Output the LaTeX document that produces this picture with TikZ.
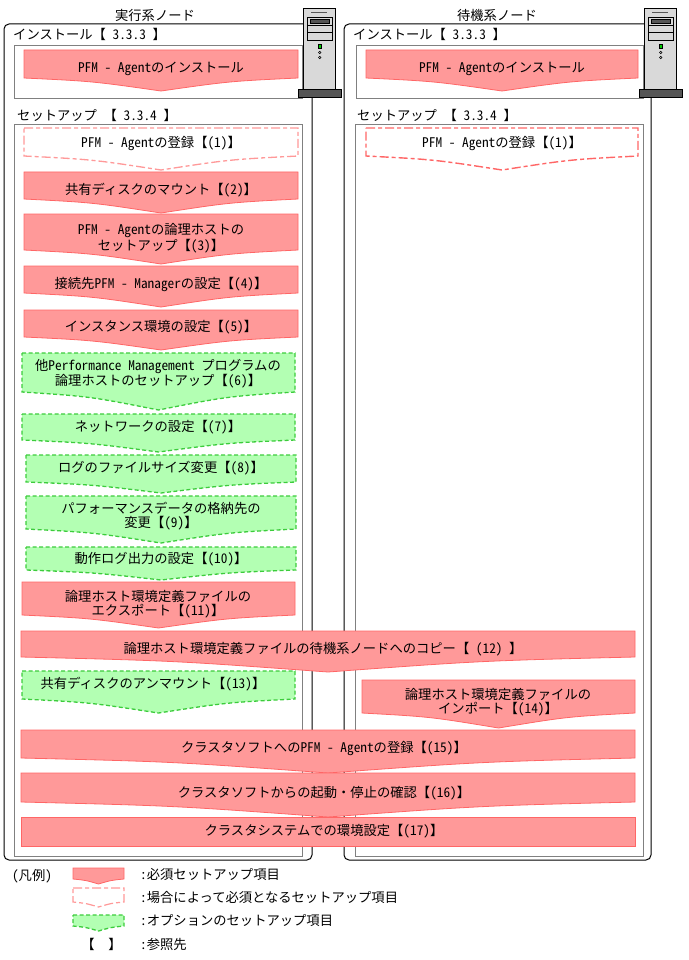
\documentclass[tikz,border=0pt]{standalone}
\usepackage{fontspec}
\setmainfont{Noto Sans CJK JP}[RawFeature=+hwid]
\definecolor{reqfill}{HTML}{FF9999}
\definecolor{reqline}{HTML}{FF6666}
\definecolor{condlineA}{HTML}{FF9999}
\definecolor{condlineB}{HTML}{FF6666}
\definecolor{optfill}{HTML}{B3FFB3}
\definecolor{optline}{HTML}{3CCC3C}
\definecolor{srvbody}{HTML}{D9D9D9}
\definecolor{srvdark}{HTML}{555555}
\definecolor{innerline}{HTML}{808080}
\newcommand\stepsh[6]{%
  \path[#1] (#2,#4) -- (#3,#4) -- (#3,#5)
    .. controls ({#3-(#3-#2)/4},{#5+(#6-#5)/4}) .. ({(#2+#3)/2},#6)
    .. controls ({#2+(#3-#2)/4},{#5+(#6-#5)/4}) .. (#2,#5) -- cycle;}
\newcommand\serverpic[1]{%
  \begin{scope}[shift={(#1,0)}]
    \draw[fill=srvbody, line width=0.8pt] (303,8) rectangle (335,89);
    \draw[line width=1pt, srvdark] (311,12.5) -- (327,12.5);
    \draw[line width=0.6pt] (307,17) rectangle (332,40);
    \draw[line width=0.6pt] (307,25) -- (332,25) (307,32) -- (332,32);
    \draw[fill=srvdark, line width=0.6pt] (310,19) rectangle (329,23.5);
    \draw[fill=green!80!black, line width=0.5pt] (318,44) rectangle (321.5,48);
    \draw[line width=0.5pt] (319.7,52.5) circle (1.3) (319.7,57.5) circle (1.3);
    \draw[fill=srvdark, line width=0.8pt] (298,89) rectangle (341,97);
  \end{scope}}
\tikzset{
  reqbox/.style={fill=reqfill, draw=reqline, line width=0.8pt},
  condboxA/.style={fill=white, draw=condlineA, line width=1.3pt, dash pattern=on 9pt off 3pt on 4pt off 3pt},
  condboxB/.style={fill=white, draw=condlineB, line width=1.4pt, dash pattern=on 9pt off 3pt on 4pt off 3pt},
  optbox/.style={fill=optfill, draw=optline, line width=1.3pt, dash pattern=on 4pt off 2.5pt},
  outerbox/.style={draw=black, line width=1pt, rounded corners=5pt},
  innerbox/.style={draw=innerline, line width=1pt},
  lbl/.style={font=\fontsize{13.3}{14}\selectfont, inner sep=0pt, align=center},
  hdr/.style={font=\fontsize{13.3}{14}\selectfont, inner sep=0pt, anchor=west},
}
\begin{document}
\begin{tikzpicture}[x=1pt, y=-1pt]
\useasboundingbox (0,0) rectangle (688,960);
% panels
\node[lbl] (titleL) at (155,15) {実行系ノード};
\node[lbl] (titleR) at (497,15) {待機系ノード};
\draw[outerbox] (4,24) rectangle (312,860);
\draw[outerbox] (344,24) rectangle (651,860);
\node[hdr] (instL) at (13,34) {インストール【 3.3.3 】};
\node[hdr] (instR) at (353,34) {インストール【 3.3.3 】};
\draw[innerbox] (14,46) rectangle (302,99);
\draw[innerbox] (356,46) rectangle (643,99);
\node[hdr] (setL) at (17,115) {セットアップ 【 3.3.4 】};
\node[hdr] (setR) at (357,115) {セットアップ 【 3.3.4 】};
\draw[innerbox] (14,125) rectangle (302,856);
\draw[innerbox] (355,125) rectangle (643,856);
% servers
\serverpic{0}
\serverpic{341}
% install
\stepsh{reqbox}{24}{298}{50}{78}{91}
\node[lbl] (s0L) at (161,69) {PFM - Agentのインストール};
\stepsh{reqbox}{366}{638}{50}{78}{91}
\node[lbl] (s0R) at (502,69) {PFM - Agentのインストール};
% (1)
\stepsh{condboxA}{24}{298}{128}{156}{170}
\node[lbl] (s1L) at (161,143) {PFM - Agentの登録【(1)】};
\stepsh{condboxB}{366}{638}{128}{156}{170}
\node[lbl] (s1R) at (502,143) {PFM - Agentの登録【(1)】};
% (2)-(5)
\stepsh{reqbox}{24}{298}{172}{199}{213}
\node[lbl] (s2) at (161,190) {共有ディスクのマウント【(2)】};
\stepsh{reqbox}{24}{298}{214}{250}{264}
\node[lbl] (s3) at (161,238) {PFM - Agentの論理ホストの\\セットアップ【(3)】};
\stepsh{reqbox}{24}{298}{266}{293}{307}
\node[lbl] (s4) at (161,284) {接続先PFM - Managerの設定【(4)】};
\stepsh{reqbox}{24}{298}{310}{337}{350}
\node[lbl] (s5) at (161,327) {インスタンス環境の設定【(5)】};
% (6)-(10)
\stepsh{optbox}{22}{295}{353}{392}{410}
\node[lbl] (s6) at (158,373.5) {他Performance Management プログラムの\\論理ホストのセットアップ【(6)】};
\stepsh{optbox}{22}{295}{414}{440}{452}
\node[lbl] (s7) at (158,427) {ネットワークの設定【(7)】};
\stepsh{optbox}{26}{296}{455}{482}{493}
\node[lbl] (s8) at (161,468) {ログのファイルサイズ変更【(8)】};
\stepsh{optbox}{26}{296}{496}{529}{543}
\node[lbl] (s9) at (161,516.5) {パフォーマンスデータの格納先の\\変更【(9)】};
\stepsh{optbox}{26}{296}{547}{570}{580}
\node[lbl] (s10) at (161,559) {動作ログ出力の設定【(10)】};
% (11)
\stepsh{reqbox}{22}{295}{582}{615}{628}
\node[lbl] (s11) at (158,604) {論理ホスト環境定義ファイルの\\エクスポート【(11)】};
% (12)
\stepsh{reqbox}{21}{635}{631}{657}{672}
\node[lbl] (s12) at (323,649) {論理ホスト環境定義ファイルの待機系ノードへのコピー【 (12) 】};
% (13)
\stepsh{optbox}{22}{295}{671}{699}{713}
\node[lbl] (s13) at (153,684) {共有ディスクのアンマウント【(13)】};
% (14)
\stepsh{reqbox}{362}{635}{680}{713}{728}
\node[lbl] (s14) at (498,702.5) {論理ホスト環境定義ファイルの\\インポート【(14)】};
% (15)-(17)
\stepsh{reqbox}{21}{635}{730}{758}{773}
\node[lbl] (s15) at (324,748) {クラスタソフトへのPFM - Agentの登録【(15)】};
\stepsh{reqbox}{21}{635}{773}{802}{817}
\node[lbl] (s16) at (324,793) {クラスタソフトからの起動・停止の確認【(16)】};
\draw[reqbox] (21,817) rectangle (635,846);
\node[lbl] (s17) at (324,831) {クラスタシステムでの環境設定【(17)】};
% legend
\node[lbl] (lg0) at (32,876) {(凡例)};
\stepsh{reqbox}{73}{124}{868}{879}{884}
\stepsh{condboxA, line width=1.2pt}{73}{124}{888}{902}{907}
\stepsh{optbox}{73}{124}{915}{926}{931}
\node[lbl] (lgb1) at (88,944) {【};
\node[lbl] (lgb2) at (115,944) {】};
\node[hdr] (lg1) at (140,874) {：必須セットアップ項目};
\node[hdr] (lg2) at (140,897) {：場合によって必須となるセットアップ項目};
\node[hdr] (lg3) at (140,921) {：オプションのセットアップ項目};
\node[hdr] (lg4) at (140,944) {：参照先};
\end{tikzpicture}
\end{document}
